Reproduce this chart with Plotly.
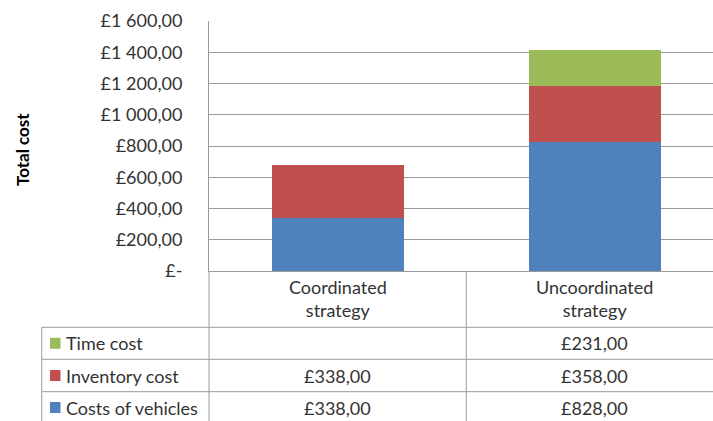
import plotly.graph_objects as go

categories = ["Coordinated strategy", "Uncoordinated strategy"]
category_labels = ["Coordinated<br>strategy", "Uncoordinated<br>strategy"]
series_names = ["Costs of vehicles", "Inventory cost", "Time cost"]
costs_of_vehicles = [338, 828]
inventory_cost = [338, 358]
time_cost = [None, 231]
series_values = [costs_of_vehicles, inventory_cost, time_cost]
series_colors = ["#4F81BD", "#C0504D", "#9BBB59"]
y_ticks = [0, 200, 400, 600, 800, 1000, 1200, 1400, 1600]


def money(v):
    if v is None:
        return ""
    if v == 0:
        return "£-"
    s = f"{v:,.2f}"
    whole, dec = s.split(".")
    return "£" + whole.replace(",", " ") + "," + dec


W, H = 713, 421
ML, MT, MB = 209, 21, 150
PW, PH = W - ML, H - MT - MB
XR = [-0.5, 1.459]
FONT = "Lato"
TXT = "#333333"
GRID = "#9a9a9a"


def px_x(p):
    return (p - ML) / PW


def px_y(p):
    return (MT + PH - p) / PH


def cat_paper(c):
    return (c - XR[0]) / (XR[1] - XR[0])


fig = go.Figure()
for name, vals, col in zip(series_names, series_values, series_colors):
    fig.add_trace(go.Bar(
        x=categories, y=vals, name=name, width=0.514,
        marker=dict(color=col, line=dict(width=0)),
        showlegend=False,
    ))

shapes = []
line = dict(color=GRID, width=1)
for yp in [327.3, 359.3, 391.7]:
    shapes.append(dict(type="line", xref="paper", yref="paper",
                       x0=px_x(41.7), x1=1.0, y0=px_y(yp), y1=px_y(yp), line=line))
shapes.append(dict(type="line", xref="paper", yref="paper",
                   x0=0, x1=0, y0=0, y1=px_y(430), line=line))
shapes.append(dict(type="line", xref="paper", yref="paper",
                   x0=cat_paper(0.5), x1=cat_paper(0.5), y0=0, y1=px_y(430), line=line))
shapes.append(dict(type="line", xref="paper", yref="paper",
                   x0=px_x(41.7), x1=px_x(41.7), y0=px_y(327.3), y1=px_y(430), line=line))

annotations = []
for i, lab in enumerate(category_labels):
    annotations.append(dict(x=cat_paper(i), y=px_y(298), xref="paper", yref="paper",
                            text=lab, showarrow=False, xanchor="center", yanchor="middle",
                            font=dict(family=FONT, size=18, color=TXT)))
row_centers = {2: 343.3, 1: 375.5, 0: 407.5}
for si in [2, 1, 0]:
    yc = row_centers[si]
    shapes.append(dict(type="rect", xref="paper", yref="paper",
                       x0=px_x(50), x1=px_x(60.5), y0=px_y(yc - 5.5), y1=px_y(yc + 5.5),
                       fillcolor=series_colors[si], line=dict(width=0)))
    annotations.append(dict(x=px_x(64), y=px_y(yc), xref="paper", yref="paper",
                            text=series_names[si], showarrow=False, xanchor="left",
                            yanchor="middle", font=dict(family=FONT, size=18, color=TXT)))
    for ci, v in enumerate(series_values[si]):
        if v is None:
            continue
        annotations.append(dict(x=cat_paper(ci), y=px_y(yc), xref="paper", yref="paper",
                                text=money(v), showarrow=False, xanchor="center",
                                yanchor="middle", font=dict(family=FONT, size=18, color=TXT)))
annotations.append(dict(x=px_x(22), y=px_y(150), xref="paper", yref="paper",
                        text="<b>Total cost</b>", textangle=-90, showarrow=False,
                        xanchor="center", yanchor="middle",
                        font=dict(family=FONT, size=17, color="#000000")))

fig.update_layout(
    width=W, height=H,
    margin=dict(l=ML, r=0, t=MT, b=MB, pad=0),
    barmode="stack",
    plot_bgcolor="white", paper_bgcolor="white",
    font=dict(family=FONT, size=18, color=TXT),
    shapes=shapes, annotations=annotations,
    xaxis=dict(range=XR, showticklabels=False, showgrid=False, zeroline=False,
               showline=True, linecolor=GRID, linewidth=1, ticks=""),
    yaxis=dict(range=[0, 1600], tickvals=y_ticks, ticktext=[money(v) for v in y_ticks],
               showgrid=True, gridcolor=GRID, gridwidth=1, zeroline=False,
               showline=True, linecolor=GRID, linewidth=1, ticks="",
               ticklabelstandoff=22, tickfont=dict(family=FONT, size=18, color=TXT)),
)

fig.write_html("out.html", config={"displayModeBar": False},
               post_script="document.body.style.margin='0';document.body.style.overflow='hidden';")
